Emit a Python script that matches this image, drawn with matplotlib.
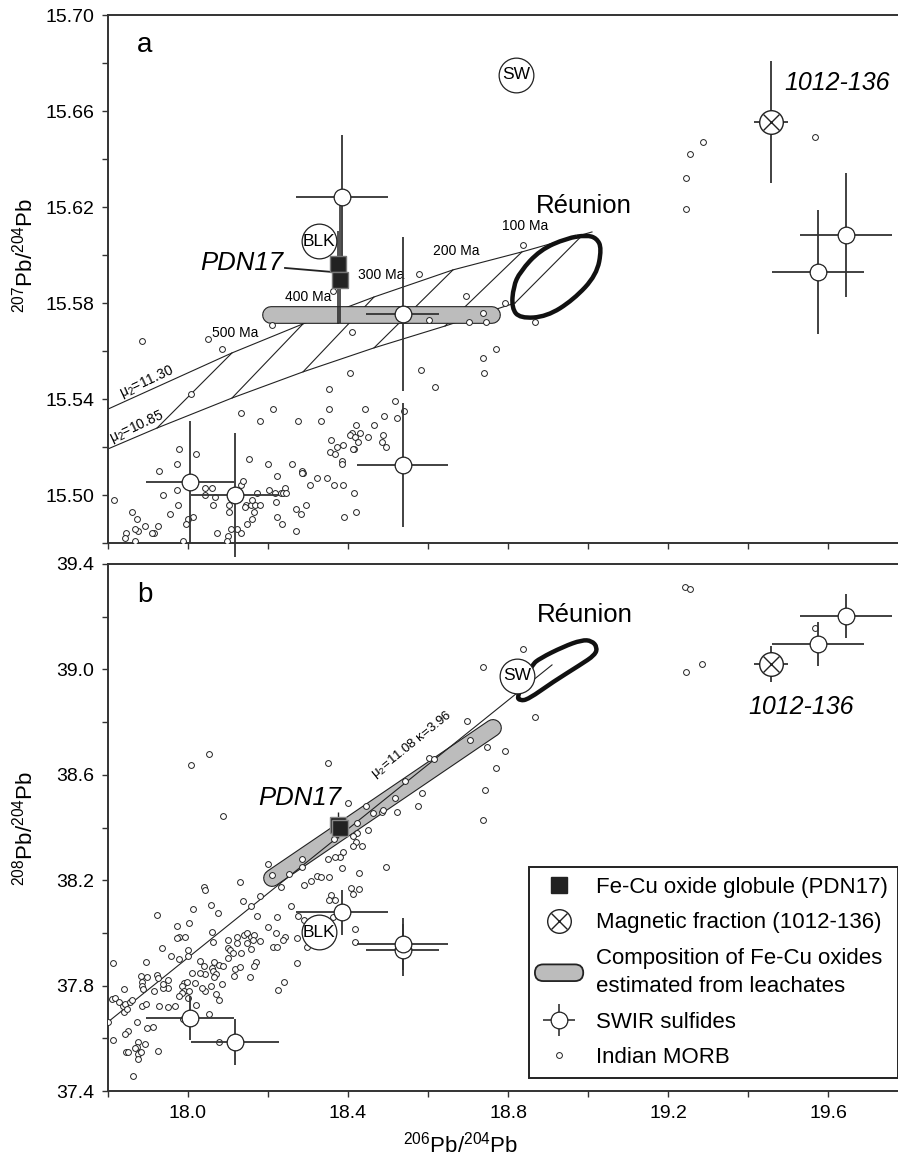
import numpy as np
import matplotlib
matplotlib.use('Agg')
import matplotlib.pyplot as plt
from matplotlib.lines import Line2D
from matplotlib.patches import Patch, FancyBboxPatch, PathPatch
from matplotlib.path import Path
from matplotlib.legend_handler import HandlerPatch
from matplotlib.ticker import FormatStrFormatter

plt.rcParams['font.family'] = ['Liberation Sans', 'DejaVu Sans']
plt.rcParams['mathtext.default'] = 'regular'

# ---- data -------------------------------------------------------------
# Indian MORB, panel a (206Pb/204Pb vs 207Pb/204Pb)
morb_a_x = [19.287, 19.255, 19.244, 19.244, 19.568, 18.838, 18.578, 18.694, 18.793, 18.737,
            18.703, 18.746, 18.868, 18.603, 18.410, 18.211, 18.363, 18.769, 18.738, 18.740,
            18.583, 18.617, 18.540, 17.884, 18.051, 18.084, 18.008, 18.405, 18.353, 18.353,
            18.212, 18.443, 18.518, 18.132, 18.180, 18.276, 18.332, 18.490, 18.523, 18.420,
            18.409, 18.430, 18.465, 18.405, 18.418, 18.358, 18.449, 18.484, 18.488, 18.388,
            18.495, 18.426, 18.416, 18.412, 18.373, 18.355, 18.368, 18.384, 18.386, 18.286,
            18.288, 18.284, 18.347, 18.323, 18.366, 18.388, 18.416, 18.419, 18.391, 18.259,
            18.199, 18.222, 18.243, 18.232, 18.238, 18.245, 18.218, 18.203, 18.220, 18.222,
            18.234, 18.269, 18.283, 18.270, 18.295, 18.305, 18.153, 18.132, 18.138, 18.172,
            18.145, 18.143, 18.157, 18.168, 18.180, 18.161, 18.166, 18.161, 18.147, 18.132,
            18.107, 18.123, 18.101, 18.098, 18.102, 18.102, 18.073, 18.062, 18.068, 18.059,
            18.043, 18.043, 18.020, 18.013, 18.001, 17.994, 17.988, 17.978, 17.973, 17.972,
            17.974, 17.955, 17.938, 17.927, 17.924, 17.915, 17.911, 17.893, 17.872, 17.876,
            17.867, 17.859, 17.844, 17.843, 17.868, 17.814]
morb_a_y = [15.647, 15.642, 15.632, 15.619, 15.649, 15.604, 15.592, 15.583, 15.580, 15.576,
            15.572, 15.572, 15.572, 15.573, 15.568, 15.571, 15.585, 15.561, 15.557, 15.551,
            15.552, 15.545, 15.535, 15.564, 15.565, 15.561, 15.542, 15.551, 15.544, 15.536,
            15.536, 15.536, 15.539, 15.534, 15.531, 15.531, 15.531, 15.533, 15.532, 15.529,
            15.526, 15.526, 15.529, 15.525, 15.524, 15.523, 15.524, 15.522, 15.525, 15.521,
            15.520, 15.522, 15.519, 15.519, 15.520, 15.518, 15.517, 15.514, 15.513, 15.510,
            15.509, 15.509, 15.507, 15.507, 15.504, 15.504, 15.501, 15.493, 15.491, 15.513,
            15.513, 15.508, 15.503, 15.501, 15.501, 15.501, 15.501, 15.502, 15.497, 15.491,
            15.488, 15.494, 15.492, 15.485, 15.496, 15.504, 15.515, 15.504, 15.506, 15.501,
            15.496, 15.495, 15.496, 15.496, 15.496, 15.498, 15.493, 15.490, 15.488, 15.484,
            15.486, 15.486, 15.483, 15.481, 15.493, 15.496, 15.484, 15.496, 15.499, 15.503,
            15.503, 15.500, 15.517, 15.491, 15.490, 15.488, 15.481, 15.519, 15.513, 15.502,
            15.496, 15.492, 15.500, 15.510, 15.487, 15.484, 15.484, 15.487, 15.490, 15.485,
            15.486, 15.493, 15.484, 15.482, 15.481, 15.498]

# Indian MORB, panel b (206Pb/204Pb vs 208Pb/204Pb)
morb_b_x = [19.243, 19.255, 18.738, 18.838, 18.867, 19.244, 19.286, 19.568, 18.697, 18.705,
            18.748, 18.793, 18.771, 18.743, 18.737, 18.602, 18.616, 18.584, 18.576, 18.543,
            18.008, 18.053, 18.087, 18.351, 18.401, 18.444, 18.463, 18.484, 18.488, 18.522,
            18.518, 18.423, 18.451, 18.422, 18.413, 18.420, 18.434, 18.413, 18.388, 18.366,
            18.380, 18.368, 18.351, 18.284, 18.199, 18.284, 18.211, 18.252, 18.385, 18.427,
            18.494, 18.323, 18.332, 18.353, 18.307, 18.289, 18.233, 18.130, 18.041, 18.043,
            18.180, 18.137, 18.157, 18.058, 18.013, 18.075, 17.923, 18.258, 18.358, 18.352,
            18.368, 18.407, 18.427, 18.413, 18.172, 18.222, 18.275, 18.290, 18.362, 18.418,
            18.418, 17.973, 18.002, 18.061, 17.977, 17.993, 17.972, 18.063, 18.101, 18.122,
            18.141, 18.147, 18.157, 18.166, 18.162, 18.147, 18.180, 18.201, 18.219, 18.243,
            18.237, 18.272, 18.122, 17.934, 18.001, 18.213, 18.222, 18.297, 17.957, 17.978,
            18.001, 18.030, 18.041, 18.059, 18.065, 18.078, 18.088, 18.101, 18.101, 18.105,
            18.113, 18.132, 18.158, 18.272, 18.241, 18.224, 18.170, 18.166, 18.155, 18.118,
            18.130, 18.116, 18.084, 18.063, 18.070, 18.066, 18.058, 18.069, 18.078, 18.043,
            18.034, 18.043, 18.030, 18.018, 18.011, 17.990, 17.997, 17.986, 17.991, 17.984,
            17.978, 18.003, 18.001, 18.019, 18.053, 17.968, 17.951, 17.951, 17.937, 17.938,
            17.922, 17.926, 17.915, 17.897, 17.886, 17.883, 17.886, 17.887, 17.895, 17.841,
            17.813, 17.809, 17.818, 17.828, 17.837, 17.843, 17.855, 17.859, 17.841, 17.848,
            17.884, 17.895, 17.928, 17.951, 17.801, 17.813, 17.851, 17.843, 17.872, 17.897,
            17.913, 17.876, 17.872, 17.844, 17.849, 17.868, 17.874, 17.874, 17.883, 17.893,
            17.926, 17.863, 18.078, 17.988]
morb_b_y = [39.314, 39.305, 39.009, 39.077, 38.821, 38.991, 39.022, 39.158, 38.804, 38.732,
            38.706, 38.691, 38.625, 38.543, 38.428, 38.663, 38.659, 38.530, 38.483, 38.578,
            38.637, 38.680, 38.445, 38.646, 38.492, 38.483, 38.454, 38.460, 38.466, 38.458,
            38.513, 38.416, 38.391, 38.380, 38.368, 38.346, 38.331, 38.331, 38.308, 38.355,
            38.289, 38.289, 38.279, 38.279, 38.261, 38.249, 38.219, 38.222, 38.245, 38.226,
            38.249, 38.217, 38.213, 38.213, 38.196, 38.183, 38.175, 38.193, 38.175, 38.163,
            38.140, 38.120, 38.102, 38.107, 38.091, 38.077, 38.069, 38.103, 38.144, 38.125,
            38.125, 38.172, 38.167, 38.147, 38.065, 38.061, 38.065, 38.049, 38.061, 38.014,
            37.965, 38.027, 38.039, 38.005, 37.986, 37.983, 37.980, 37.967, 37.973, 37.986,
            37.992, 38.001, 37.986, 37.992, 37.973, 37.961, 37.969, 38.021, 37.998, 37.986,
            37.973, 37.980, 37.963, 37.942, 37.935, 37.948, 37.945, 37.948, 37.913, 37.901,
            37.912, 37.894, 37.876, 37.866, 37.888, 37.878, 37.876, 37.904, 37.942, 37.935,
            37.923, 37.923, 37.938, 37.885, 37.813, 37.783, 37.888, 37.876, 37.834, 37.862,
            37.869, 37.836, 37.805, 37.857, 37.843, 37.832, 37.800, 37.768, 37.745, 37.780,
            37.790, 37.843, 37.847, 37.811, 37.849, 37.811, 37.815, 37.800, 37.781, 37.771,
            37.762, 37.781, 37.752, 37.726, 37.692, 37.724, 37.821, 37.790, 37.792, 37.805,
            37.840, 37.828, 37.781, 37.832, 37.813, 37.838, 37.800, 37.786, 37.888, 37.787,
            37.885, 37.748, 37.754, 37.739, 37.724, 37.730, 37.737, 37.745, 37.699, 37.711,
            37.724, 37.730, 37.724, 37.720, 37.663, 37.594, 37.629, 37.616, 37.663, 37.640,
            37.644, 37.587, 37.568, 37.547, 37.549, 37.562, 37.539, 37.520, 37.547, 37.578,
            37.552, 37.457, 37.587, 37.673]

# SWIR sulfides
sulf_x = [19.645, 19.575, 18.385, 18.537, 18.537, 18.005, 18.1175]
sulf_xerr = [0.114, 0.114, 0.114, 0.091, 0.114, 0.11, 0.11]
sulf_y207 = [15.6083, 15.5929, 15.6242, 15.5754, 15.5125, 15.5054, 15.500]
sulf_y207_err = [0.026, 0.0257, 0.026, 0.0319, 0.0258, 0.0254, 0.0258]
sulf_y208 = [39.203, 39.096, 38.079, 37.935, 37.958, 37.677, 37.586]
sulf_y208_err = [0.0835, 0.0835, 0.0855, 0.10, 0.10, 0.085, 0.087]

# magnetic fraction 1012-136
mag_x, mag_xerr = 19.4575, 0.042
mag_y207, mag_y207_err = 15.6554, 0.0254
mag_y208, mag_y208_err = 39.020, 0.068

# Fe-Cu oxide globule PDN17
pdn_x = [18.374, 18.380]
pdn_y207 = [15.5963, 15.5896]
pdn_y207_lo = [0.0249, 0.0179]
pdn_y207_hi = [0.0139, 0.0313]
pdn_y208 = [38.410, 38.400]
pdn_y208_err = [0.05, 0.02]

# leachate estimate (pill) end points
pill_a_x = [18.2075, 18.760]
pill_a_y = [15.575, 15.575]
pill_b_x = [18.210, 18.7625]
pill_b_y = [38.208, 38.778]

# growth curves mu2 = 11.30 / 10.85 and isochrons (panel a)
curve_hi_x = [17.80, 18.11, 18.2875, 18.465, 18.6625, 18.835, 19.01]
curve_hi_y = [15.5358, 15.5592, 15.5713, 15.5825, 15.5938, 15.6013, 15.6096]
curve_lo_x = [17.80, 17.9225, 18.11, 18.2875, 18.465, 18.6425, 18.8175]
curve_lo_y = [15.5192, 15.5279, 15.5404, 15.5513, 15.5613, 15.5704, 15.580]
iso_up_x = [18.11, 18.2875, 18.465, 18.6625, 18.835, 18.9875]
iso_up_y = [15.5592, 15.5713, 15.5825, 15.5938, 15.6013, 15.6085]
iso_lo_x = [17.9225, 18.11, 18.2875, 18.465, 18.6425, 18.8175]
iso_lo_y = [15.5279, 15.5404, 15.5513, 15.5613, 15.5704, 15.580]
age_labels = ['500 Ma', '400 Ma', '300 Ma', '200 Ma', '100 Ma']
age_x = [18.06, 18.2425, 18.425, 18.6125, 18.785]
age_y = [15.5675, 15.5825, 15.5917, 15.6017, 15.612]

# reference line panel b (mu2=11.08, kappa=3.96)
ref_b_x = [17.80, 18.91]
ref_b_y = [37.662, 39.017]

# Reunion fields
reu_a_x = [18.9967, 19.0217, 19.0342, 19.0217, 18.9633, 18.8967, 18.830, 18.8092,
           18.8133, 18.830, 18.880, 18.9467]
reu_a_y = [15.6083, 15.6070, 15.6028, 15.5917, 15.5813, 15.5743, 15.5736, 15.5778,
           15.5868, 15.5930, 15.6021, 15.6070]
reu_b_x = [18.8218, 18.830, 18.8508, 18.9133, 18.980, 19.0175, 19.0233, 19.0093,
           18.9843, 18.9383, 18.880, 18.8593]
reu_b_y = [38.8964, 38.8812, 38.8865, 38.9533, 39.0167, 39.0546, 39.0839, 39.1089,
           39.1116, 39.0861, 39.0421, 39.0167]

# reference points
sw_a, blk_a = (18.820, 15.675), (18.3275, 15.6058)
sw_b, blk_b = (18.8225, 38.975), (18.3275, 38.0034)

# axis ticks
x_major = [18.0, 18.4, 18.8, 19.2, 19.6]
x_minor = [17.8, 18.2, 18.6, 19.0, 19.4]
ya_major = [15.50, 15.54, 15.58, 15.62, 15.66, 15.70]
ya_minor = [15.48, 15.52, 15.56, 15.60, 15.64, 15.68]
yb_major = [37.4, 37.8, 38.2, 38.6, 39.0, 39.4]
yb_minor = [37.6, 38.0, 38.4, 38.8, 39.2]

INK = '#222222'
GREY = '#bcbcbc'


def smooth_closed(xs, ys):
    """closed quadratic-bezier outline through the midpoints of the read points"""
    pts = np.column_stack([xs, ys])
    mids = (pts + np.roll(pts, -1, axis=0)) / 2
    verts = [mids[-1]]
    codes = [Path.MOVETO]
    for i in range(len(pts)):
        verts += [pts[i], mids[i]]
        codes += [Path.CURVE3, Path.CURVE3]
    return Path(verts, codes)


def draw_common(ax, y_sulf, y_sulf_err, y_mag, y_mag_err, morb_x, morb_y, reu_x, reu_y,
                sw, blk, pill_x, pill_y):
    # pill of leachate compositions
    ax.plot(pill_x, pill_y, color=INK, lw=12.8, solid_capstyle='round', zorder=2.5)
    ax.plot(pill_x, pill_y, color=GREY, lw=11.2, solid_capstyle='round', zorder=2.6)

    # Reunion field
    ax.add_patch(PathPatch(smooth_closed(reu_x, reu_y), fill=False, ec='#111111',
                           lw=3.2, joinstyle='round', zorder=5))

    # MORB
    ax.plot(morb_x, morb_y, 'o', ms=4.2, mfc='white', mec=INK, mew=0.7, ls='none', zorder=4)

    # SWIR sulfides
    eb = ax.errorbar(sulf_x, y_sulf, xerr=sulf_xerr, yerr=y_sulf_err, fmt='o', ms=12,
                     mfc='white', mec=INK, mew=0.9, ecolor='#333333', elinewidth=1.3,
                     capsize=0, zorder=6)
    for lc in eb.lines[2]:
        lc.set_clip_on(False)

    # magnetic fraction
    ax.errorbar([mag_x], [y_mag], xerr=mag_xerr, yerr=y_mag_err, fmt='o', ms=17,
                mfc='white', mec=INK, mew=1.0, ecolor='#333333', elinewidth=1.3,
                capsize=0, zorder=6)
    ax.plot([mag_x], [y_mag], 'x', ms=11, mec=INK, mew=1.0, zorder=7)

    # SW and BLK circles
    for (cx, cy), lab in [(sw, 'SW'), (blk, 'BLK')]:
        ax.plot([cx], [cy], 'o', ms=25, mfc='white', mec=INK, mew=0.9, zorder=6)
        ax.text(cx, cy, lab, ha='center', va='center', fontsize=12.5, zorder=7)


fig = plt.figure(figsize=(8.98, 11.56), dpi=100)
W, H = 898.0, 1156.0
ax1 = fig.add_axes([108 / W, 1 - 543 / H, 790 / W, 528 / H])
ax2 = fig.add_axes([108 / W, 1 - 1091 / H, 790 / W, 527 / H])

# ---- panel a ----------------------------------------------------------
ax1.plot(curve_hi_x, curve_hi_y, color=INK, lw=0.8, zorder=2)
ax1.plot(curve_lo_x, curve_lo_y, color=INK, lw=0.8, zorder=2)
for i in range(len(iso_up_x)):
    ax1.plot([iso_up_x[i], iso_lo_x[i]], [iso_up_y[i], iso_lo_y[i]], color=INK, lw=0.8, zorder=2)
for lab, x, y in zip(age_labels, age_x, age_y):
    ax1.text(x, y, lab, fontsize=10, ha='left', va='center', zorder=3)
ax1.text(17.8975, 15.547, 'μ$_2$=11.30', fontsize=10, rotation=25, ha='center', va='center')
ax1.text(17.8725, 15.5283, 'μ$_2$=10.85', fontsize=10, rotation=25, ha='center', va='center')

draw_common(ax1, sulf_y207, sulf_y207_err, mag_y207, mag_y207_err, morb_a_x, morb_a_y,
            reu_a_x, reu_a_y, sw_a, blk_a, pill_a_x, pill_a_y)

ax1.errorbar(pdn_x, pdn_y207, yerr=[pdn_y207_lo, pdn_y207_hi], fmt='s', ms=11.5,
             mfc=INK, mec='#777777', mew=1.0, ecolor=INK, elinewidth=1.1, capsize=0,
             zorder=6.5)
ax1.plot([18.2425, 18.3625], [15.5946, 15.5929], color=INK, lw=1.3, zorder=6)
ax1.text(18.2375, 15.5967, 'PDN17', fontsize=18.5, style='italic', ha='right', va='center')
ax1.text(18.99, 15.6204, 'Réunion', fontsize=18.5, ha='center', va='center')
ax1.text(19.49, 15.6717, '1012-136', fontsize=18, style='italic', ha='left', va='center')
ax1.text(17.8925, 15.6875, 'a', fontsize=20, ha='center', va='center')

ax1.set_xlim(17.8, 19.775)
ax1.set_ylim(15.48, 15.70)
ax1.set_yticks(ya_major)
ax1.set_yticks(ya_minor, minor=True)
ax1.yaxis.set_major_formatter(FormatStrFormatter('%.2f'))

# ---- panel b ----------------------------------------------------------
ax2.plot(ref_b_x, ref_b_y, color=INK, lw=0.8, zorder=3)
ax2.text(18.56, 38.713, 'μ$_2$=11.08 κ=3.96', fontsize=9.5, rotation=38.8,
         ha='center', va='center')

draw_common(ax2, sulf_y208, sulf_y208_err, mag_y208, mag_y208_err, morb_b_x, morb_b_y,
            reu_b_x, reu_b_y, sw_b, blk_b, pill_b_x, pill_b_y)

ax2.errorbar(pdn_x, pdn_y208, yerr=pdn_y208_err, fmt='s', ms=12, mfc=INK, mec='#888888',
             mew=1.0, ecolor=INK, elinewidth=1.0, capsize=0, zorder=6.5)
ax2.text(18.28, 38.512, 'PDN17', fontsize=18.5, style='italic', ha='center', va='center')
ax2.text(18.9925, 39.2065, 'Réunion', fontsize=18.5, ha='center', va='center')
ax2.text(19.40, 38.857, '1012-136', fontsize=18, style='italic', ha='left', va='center')
ax2.text(17.8925, 39.282, 'b', fontsize=20, ha='center', va='center')

ax2.set_xlim(17.8, 19.775)
ax2.set_ylim(37.4, 39.4)
ax2.set_yticks(yb_major)
ax2.set_yticks(yb_minor, minor=True)
ax2.yaxis.set_major_formatter(FormatStrFormatter('%.1f'))

for ax in (ax1, ax2):
    ax.set_xticks(x_major)
    ax.set_xticks(x_minor, minor=True)
    ax.xaxis.set_major_formatter(FormatStrFormatter('%.1f'))
    ax.spines['right'].set_visible(False)
    for s in ('left', 'top', 'bottom'):
        ax.spines[s].set_linewidth(1.4)
        ax.spines[s].set_color('#333333')
    ax.tick_params(which='both', direction='out', length=4, width=1.0, color='#333333',
                   labelsize=14, pad=6)
ax1.tick_params(labelbottom=False)

# ---- legend -----------------------------------------------------------
def pill_patch(legend, orig_handle, xdescent, ydescent, width, height, fontsize):
    h = 12.0
    y0 = -ydescent + (height - h) / 2
    return FancyBboxPatch((-xdescent - 3, y0), width + 6, h,
                          boxstyle=f'round,pad=0,rounding_size={h / 2}')


h_sq = Line2D([], [], marker='s', ms=12, mfc=INK, mec=INK, ls='none')
h_mag = (Line2D([], [], marker='o', ms=17, mfc='white', mec=INK, mew=1.0, ls='none'),
         Line2D([], [], marker='x', ms=11, mec=INK, mew=1.0, ls='none'))
h_pill = Patch(facecolor=GREY, edgecolor=INK, lw=1.3)
h_sulf = (Line2D([], [], marker='+', ms=23, mec='#333333', mew=1.2, ls='none'),
          Line2D([], [], marker='o', ms=12, mfc='white', mec=INK, mew=0.9, ls='none'))
h_morb = Line2D([], [], marker='o', ms=4.2, mfc='white', mec=INK, mew=0.7, ls='none')

leg = ax2.legend([h_sq, h_mag, h_pill, h_sulf, h_morb],
                 ['Fe-Cu oxide globule (PDN17)', 'Magnetic fraction (1012-136)',
                  'Composition of Fe-Cu oxides\nestimated from leachates', 'SWIR sulfides',
                  'Indian MORB'],
                 handler_map={h_pill: HandlerPatch(patch_func=pill_patch)},
                 loc='upper left', bbox_to_anchor=(0.533, 0.425), fontsize=16,
                 frameon=True, fancybox=False, framealpha=1, edgecolor=INK,
                 borderpad=0.45, handlelength=1.8, handletextpad=0.75, labelspacing=0.65,
                 borderaxespad=0)
leg.get_texts()[2].set_linespacing(1.45)
leg.get_frame().set_linewidth(1.4)
leg.set_zorder(10)

# axis labels
fig.text(25 / W, 1 - 255 / H, '$^{207}$Pb/$^{204}$Pb', rotation=90, fontsize=16,
         ha='center', va='center')
fig.text(25 / W, 1 - 828 / H, '$^{208}$Pb/$^{204}$Pb', rotation=90, fontsize=16,
         ha='center', va='center')
fig.text(461 / W, 1 - 1145 / H, '$^{206}$Pb/$^{204}$Pb', fontsize=16, ha='center',
         va='center')

fig.savefig('out.png', dpi=100)
